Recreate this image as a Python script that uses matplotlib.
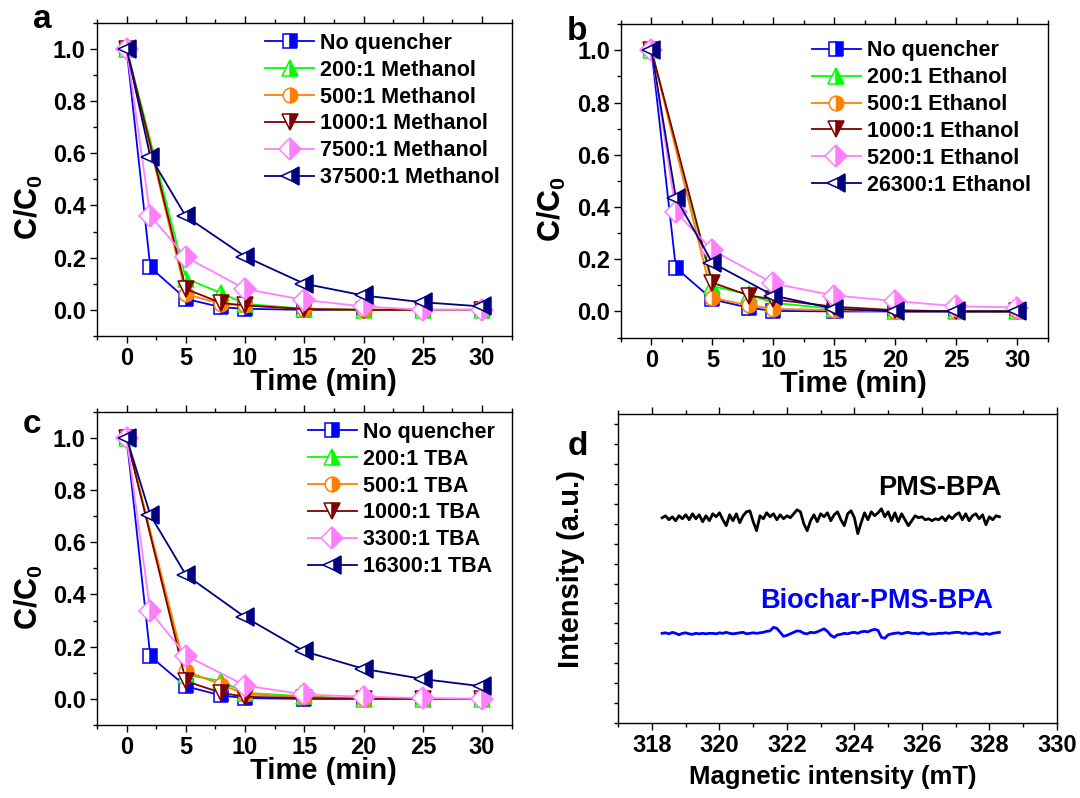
import matplotlib
matplotlib.use("Agg")
import matplotlib.pyplot as plt
from matplotlib.ticker import MultipleLocator

plt.rcParams['font.family'] = ['Liberation Sans', 'DejaVu Sans']
plt.rcParams['font.weight'] = 'bold'
plt.rcParams['axes.labelweight'] = 'bold'
plt.rcParams['mathtext.fontset'] = 'custom'
plt.rcParams['mathtext.rm'] = 'Liberation Sans:bold'
plt.rcParams['mathtext.default'] = 'rm'

# ---- time points (min) ----
t_all = [0, 2, 5, 8, 10, 15, 20, 25, 30]
t_no2 = [0, 5, 8, 10, 15, 20, 25, 30]
t_no8 = [0, 2, 5, 10, 15, 20, 25, 30]

# ---- panel a : methanol ----
labels_a = ["No quencher", "200:1 Methanol", "500:1 Methanol", "1000:1 Methanol",
            "7500:1 Methanol", "37500:1 Methanol"]
nq_a = [1.0, 0.163, 0.042, 0.010, 0.004, 0.0, 0.0, 0.0, 0.0]
m200 = [1.0, 0.120, 0.064, 0.023, 0.004, 0.0, 0.0, 0.0]
m500 = [1.0, 0.060, 0.023, 0.017, 0.004, 0.0, 0.0, 0.0]
m1000 = [1.0, 0.080, 0.026, 0.017, 0.003, 0.0, 0.0, 0.0]
m7500 = [1.0, 0.361, 0.202, 0.080, 0.038, 0.013, 0.0, 0.0]
m37500 = [1.0, 0.587, 0.358, 0.204, 0.100, 0.055, 0.029, 0.013]

# ---- panel b : ethanol ----
labels_b = ["No quencher", "200:1 Ethanol", "500:1 Ethanol", "1000:1 Ethanol",
            "5200:1 Ethanol", "26300:1 Ethanol"]
nq_b = [1.0, 0.167, 0.046, 0.014, 0.002, 0.0, 0.0, 0.0, 0.0]
e200 = [1.0, 0.097, 0.065, 0.033, 0.010, 0.0, 0.0, 0.0]
e500 = [1.0, 0.052, 0.023, 0.010, 0.005, 0.0, 0.0, 0.0]
e1000 = [1.0, 0.110, 0.061, 0.046, 0.018, 0.005, 0.0, 0.0]
e5200 = [1.0, 0.380, 0.235, 0.107, 0.061, 0.040, 0.020, 0.015]
e26300 = [1.0, 0.435, 0.186, 0.061, 0.010, 0.0, 0.0, 0.0]

# ---- panel c : TBA ----
labels_c = ["No quencher", "200:1 TBA", "500:1 TBA", "1000:1 TBA",
            "3300:1 TBA", "16300:1 TBA"]
nq_c = [1.0, 0.163, 0.048, 0.013, 0.003, 0.0, 0.0, 0.0, 0.0]
t200 = [1.0, 0.093, 0.068, 0.023, 0.010, 0.0, 0.0, 0.0]
t500 = [1.0, 0.106, 0.055, 0.017, 0.008, 0.0, 0.0, 0.0]
t1000 = [1.0, 0.068, 0.023, 0.008, 0.003, 0.0, 0.0, 0.0]
t3300 = [1.0, 0.335, 0.166, 0.051, 0.017, 0.008, 0.003, 0.0]
t16300 = [1.0, 0.704, 0.475, 0.313, 0.182, 0.115, 0.076, 0.048]

# ---- panel d : EPR spectra (field 318.3 - 328.3 mT, step 0.1) ----
field = [round(318.3 + 0.1 * i, 1) for i in range(101)]
epr_pms = [0, 2, -2, 1, -3, 2, -1, 3, -2, 4,
           -1, 3, -4, 2, -3, 4, 1, 5, -2, -8,
           3, -3, 4, -5, 2, 6, 7, -4, -13, 2,
           -1, 5, 1, 4, -2, 3, -1, 2, 0, 4,
           8, 6, -6, -13, -3, 3, -4, 4, 1, 5,
           -3, 3, 6, -2, -8, 4, 7, 0, -16, -5,
           5, -2, 6, 2, 5, 9, 1, 6, -3, 5,
           -4, 4, -2, -8, -3, 2, 0, 1, -2, -1,
           -3, -1, -2, 1, -3, 2, -1, 3, 5, -2,
           4, -3, 2, 4, -1, 3, -7, 1, -2, 2, 1]
epr_bc = [0, 0.5, -0.5, 1, 0, -1.5, 0, 0.5, -0.5, -1,
          0, -0.5, 0, -0.5, 0, 0, -0.5, 0.5, 0, 1,
          0, -0.5, 0, 0.5, 1, -0.5, 0, 0.5, 0, 0.5,
          1, 2, 2.5, 6, 5, 1, -3, -2, -0.5, 1,
          2.5, 2, 0, -0.5, 1, 0.5, 1.5, 3, 4.5, 2,
          -2, -4, -1.5, -1, 0, -0.5, 0.5, 1, 0, 1.5,
          2, 1.5, 3, 4, 3, -4, -5, -1.5, -0.5, 0,
          0.5, -0.5, 0.5, 1, 0, 0, -0.5, 0.5, 0, -1,
          -0.5, -0.5, 0, 0, 0.5, 0, 0.5, 1, 1, 0,
          0.5, -0.5, 0, 0.5, -0.5, -1, 0, -1, 0, 0.5, 1]

colors = ["#0000ff", "#00ff00", "#ff8000", "#800000", "#ff80ff", "#000080"]
markers = ["s", "^", "o", "v", "D", "<"]
msizes = [9.5, 11.5, 10.5, 11.5, 11.5, 12.5]

fig = plt.figure(figsize=(10.8, 7.98), dpi=100)
ax_a = fig.add_axes([0.0898, 0.579, 0.384, 0.3926])
ax_b = fig.add_axes([0.575, 0.577, 0.395, 0.3927])
ax_c = fig.add_axes([0.0898, 0.0915, 0.384, 0.3926])
ax_d = fig.add_axes([0.5725, 0.094, 0.406, 0.387])


def style_axes(ax):
    for s in ax.spines.values():
        s.set_linewidth(1.0)
    ax.tick_params(which='both', direction='out', width=1.0, labelsize=17,
                   top=True, right=False, pad=3)
    ax.tick_params(which='major', length=5)
    ax.tick_params(which='minor', length=3)


def decay_panel(ax, series, labels, legend_x, legend_y):
    for i, (t, y) in enumerate(series):
        ax.plot(t, y, color=colors[i], lw=1.3, marker=markers[i], ms=msizes[i],
                fillstyle='right', markerfacecoloralt='white',
                markeredgecolor=colors[i], markeredgewidth=1.1, label=labels[i])
    ax.set_xlim(-2.5, 32.5)
    ax.set_ylim(-0.1, 1.1)
    ax.xaxis.set_major_locator(MultipleLocator(5))
    ax.xaxis.set_minor_locator(MultipleLocator(2.5))
    ax.yaxis.set_major_locator(MultipleLocator(0.2))
    ax.yaxis.set_minor_locator(MultipleLocator(0.1))
    style_axes(ax)
    ax.set_xlabel("Time (min)", fontsize=21)
    ax.set_ylabel("C/C$_0$", fontsize=22)
    ax.xaxis.set_label_coords(0.545, -0.102)
    ax.yaxis.set_label_coords(-0.125, 0.41)
    ax.legend(loc='upper left', bbox_to_anchor=(legend_x, legend_y), frameon=False,
              fontsize=15.5, handlelength=2.3, handletextpad=0.25, labelspacing=0.27,
              borderaxespad=0, borderpad=0)


decay_panel(ax_a, [(t_all, nq_a), (t_no2, m200), (t_no2, m500), (t_no2, m1000),
                   (t_no8, m7500), (t_no8, m37500)], labels_a, 0.405, 0.967)
decay_panel(ax_b, [(t_all, nq_b), (t_no2, e200), (t_no2, e500), (t_no2, e1000),
                   (t_no8, e5200), (t_no8, e26300)], labels_b, 0.447, 0.948)
decay_panel(ax_c, [(t_all, nq_c), (t_no2, t200), (t_no2, t500), (t_no2, t1000),
                   (t_no8, t3300), (t_no8, t16300)], labels_c, 0.508, 0.967)

# EPR panel, traces stacked with vertical offsets
ax_d.plot(field, [v + 206 for v in epr_pms], color='black', lw=2.0)
ax_d.plot(field, [v + 90 for v in epr_bc], color='#0000ff', lw=2.0)
ax_d.text(328.35, 236, "PMS-BPA", ha='right', va='center', fontsize=19.5, color='black')
ax_d.text(328.1, 122, "Biochar-PMS-BPA", ha='right', va='center', fontsize=19.5,
          color='#0000ff')
ax_d.set_xlim(317, 330)
ax_d.set_ylim(0, 310)
ax_d.xaxis.set_major_locator(MultipleLocator(2))
ax_d.xaxis.set_minor_locator(MultipleLocator(1))
ax_d.yaxis.set_major_locator(MultipleLocator(40))
ax_d.yaxis.set_minor_locator(MultipleLocator(20))
style_axes(ax_d)
ax_d.tick_params(axis='y', which='both', labelleft=False, length=3)
ax_d.set_xlabel("Magnetic intensity (mT)", fontsize=18.5)
ax_d.set_ylabel("Intensity (a.u.)", fontsize=21)
ax_d.xaxis.set_label_coords(0.49, -0.135)
ax_d.yaxis.set_label_coords(-0.076, 0.5)

# panel letters
fig.text(0.039, 0.975, "a", fontsize=24, ha='center', va='center')
fig.text(0.534, 0.96, "b", fontsize=24, ha='center', va='center')
fig.text(0.030, 0.468, "c", fontsize=24, ha='center', va='center')
fig.text(0.535, 0.44, "d", fontsize=24, ha='center', va='center')

fig.savefig("out.png", dpi=100)
